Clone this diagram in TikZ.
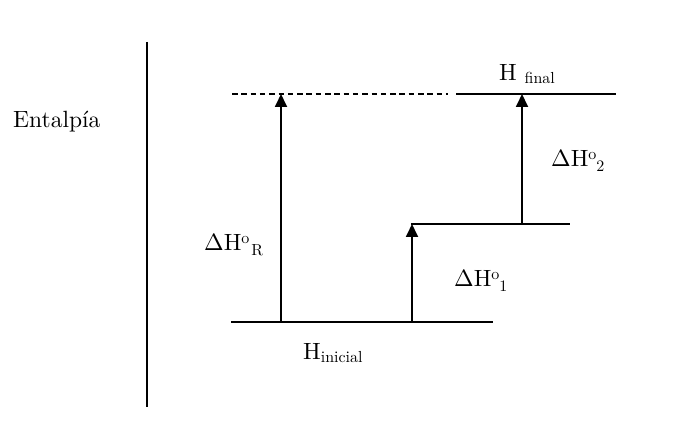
\documentclass[tikz,border=0pt]{standalone}
\usepackage{fontspec}
\setmainfont{lmroman10-regular.otf}
\usetikzlibrary{arrows.meta}
% small raised / lowered text, sized like a word processor's sub/superscript
\newcommand{\upidx}[1]{\raisebox{7pt}{\fontsize{16}{18}\selectfont #1}}
\newcommand{\dnidx}[2]{\raisebox{-#1}{\fontsize{16}{18}\selectfont #2}}
\begin{document}
\begin{tikzpicture}[x=1pt,y=-1pt,
  level/.style={line width=2pt},
  rise/.style={line width=1.8pt,-{Triangle[width=12pt,length=13pt]}},
  lbl/.style={inner sep=0pt,anchor=base west,font=\fontsize{23.5}{26}\selectfont}]
\useasboundingbox (0,0) rectangle (688,435);
% enthalpy axis
\coordinate (axtop) at (147,42);
\coordinate (axbot) at (147,407);
\draw[line width=1.5pt] (axtop) -- (axbot);
\node[lbl] (ent) at (13,128) {Entalpía};
% energy levels
\coordinate (iniL) at (231,322);
\coordinate (iniR) at (493,322);
\coordinate (midL) at (411,224);
\coordinate (midR) at (570,224);
\coordinate (finL) at (456,94);
\coordinate (finR) at (616,94);
\coordinate (dashL) at (232,94);
\coordinate (dashR) at (448,94);
\draw[level] (iniL) -- (iniR);
\draw[level] (midL) -- (midR);
\draw[level] (finL) -- (finR);
\draw[line width=1.3pt,dash pattern=on 5.5pt off 3.8pt] (dashL) -- (dashR);
% arrows
\coordinate (aRb) at (281,322);
\coordinate (aRt) at (281,94);
\coordinate (a1b) at (412,322);
\coordinate (a1t) at (412,224);
\coordinate (a2b) at (522,224);
\coordinate (a2t) at (522,94);
\draw[rise] (aRb) -- (aRt);
\draw[rise] (a1b) -- (a1t);
\draw[rise] (a2b) -- (a2t);
% labels
\node[lbl] (dHR) at (204,251) {ΔH\upidx{o}\kern2pt\dnidx{5pt}{R}};
\node[lbl] (dH1) at (454,287) {ΔH\upidx{o}\dnidx{5pt}{1}};
\node[lbl] (dH2) at (551,167) {ΔH\upidx{o}\dnidx{5pt}{2}};
\node[lbl] (Hfin) at (499,81) {H \dnidx{2.5pt}{final}};
\node[lbl] (Hini) at (303,360) {H\dnidx{2.5pt}{inicial}};
\end{tikzpicture}
\end{document}
